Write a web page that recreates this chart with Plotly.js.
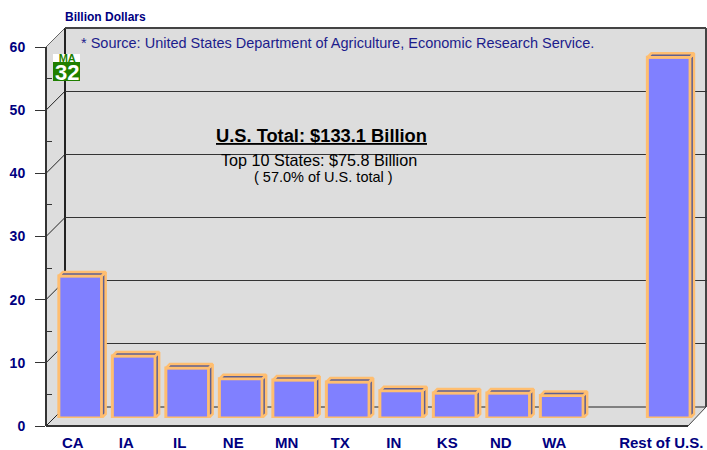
<!DOCTYPE html>
<html><head><meta charset="utf-8">
<script src="https://cdn.plot.ly/plotly-3.0.1.min.js"></script>
<style>html,body{margin:0;padding:0;background:#fff}#c{width:707px;height:450px}</style>
</head><body><div id="c"></div>
<script>
const categories = ['CA','IA','IL','NE','MN','TX','IN','KS','ND','WA','','Rest of U.S.'];
const values = [22.5,9.8,7.9,6.2,6.0,5.7,4.3,3.95,3.95,3.55,null,57.1];
const gridValues = [10,20,30,40,50,60];
const tickValues = [0,10,20,30,40,50,60];
const minorValues = [5,15,25,35,45,55];

const W=707,H=450,L=46,T=28,B=24;
const plotW=W-L, plotH=H-T-B;
const cellsW=642, axisH=379, depth=19, midX=7.5, midY=8, barW=0.8;
const pxX=12/cellsW, pxY=60/axisH;   // data units per pixel
const ex=4*pxX, ey=4*pxY;            // bar extrusion

const xs=categories.map((_,i)=>i);
const navy='#000080';
const edge='#FFBE70';

// bar extrusion polygons, derived from the values
let topX=[],topY=[],sideX=[],sideY=[];
values.forEach((v,i)=>{
  if(v===null) return;
  const a=i-barW/2,b=i+barW/2;
  topX.push(a,a+ex,b+ex,b,a,null); topY.push(v,v+ey,v+ey,v,v,null);
  sideX.push(b,b+ex,b+ex,b,b,null); sideY.push(0,ey,v+ey,v,0,null);
});

const data=[
 {type:'scatter',x:[0],y:[0],xaxis:'x',yaxis:'y',mode:'none',hoverinfo:'skip',showlegend:false},
 {type:'scatter',x:[0],y:[0],xaxis:'x2',yaxis:'y2',mode:'none',hoverinfo:'skip',showlegend:false},
 {type:'scatter',x:sideX,y:sideY,xaxis:'x3',yaxis:'y3',mode:'lines',fill:'toself',fillcolor:'#5F5F90',
  line:{color:edge,width:2.5},hoverinfo:'skip',showlegend:false},
 {type:'scatter',x:topX,y:topY,xaxis:'x3',yaxis:'y3',mode:'lines',fill:'toself',fillcolor:'#5F5F90',
  line:{color:edge,width:2.5},hoverinfo:'skip',showlegend:false},
 {type:'bar',x:xs,y:values,xaxis:'x3',yaxis:'y3',width:barW,marker:{color:'#8080FF',line:{color:edge,width:3}},
  hoverinfo:'skip',showlegend:false},
];

const px=(x)=>(x-L)/plotW, py=(y)=>(H-B-y)/plotH;
const seg=(x0,y0,x1,y1,color,width)=>({type:'line',xref:'paper',yref:'paper',layer:'below',
  x0:px(x0),y0:py(y0),x1:px(x1),y1:py(y1),line:{color,width}});

const y0px=H-B, yOf=v=>y0px-v/pxY;
const shapes=[
 {type:'path',xref:'paper',yref:'paper',layer:'below',fillcolor:'#DDDDDD',line:{width:0},
  path:'M'+[[46,47],[65,28],[706,28],[706,407],[688,426],[46,426]].map(p=>px(p[0])+','+py(p[1])).join('L')+'Z'}
];
gridValues.forEach(v=>{
  const y=yOf(v);
  shapes.push(seg(46,y,65,y-depth,v===60?'#666666':'#222222',1));
});
shapes.push(seg(46,426,65,407,'#222222',1));
shapes.push(seg(65,407,706,407,'#222222',1));
shapes.push(seg(65,28,65,407,'#222222',2));
shapes.push(seg(65,28,706,28,'#444444',2));
shapes.push(seg(706,28,706,407,'#444444',2));
shapes.push(seg(688,426,706,407,'#444444',1));
shapes.push(seg(46,426,688,426,'#333333',2));
shapes.push(seg(46,47,46,426,'#333333',2));
// highway badge
shapes.push({type:'rect',xref:'paper',yref:'paper',layer:'above',x0:px(53),x1:px(80),y0:py(81),y1:py(54),fillcolor:'#1F7F00',line:{width:0}});
shapes.push({type:'rect',xref:'paper',yref:'paper',layer:'above',x0:px(53),x1:px(80),y0:py(62),y1:py(54),fillcolor:'#FFFFFF',line:{width:0}});

const text=(t,x,y,size,color,anchor,extra)=>Object.assign({xref:'paper',yref:'paper',x:px(x),y:py(y),text:t,showarrow:false,
  xanchor:anchor,yanchor:'middle',font:{family:'Liberation Sans',size,color}},extra||{});

const layout={
 width:W,height:H,paper_bgcolor:'#fff',plot_bgcolor:'rgba(0,0,0,0)',showlegend:false,
 margin:{l:L,r:0,t:T,b:B,pad:0},barmode:'overlay',
 xaxis:{domain:[depth/plotW,1],range:[0,1],visible:false,anchor:'y'},
 yaxis:{domain:[depth/plotH,1],range:[0,60],anchor:'x',tickmode:'array',tickvals:gridValues,showgrid:true,gridcolor:'#333333',gridwidth:1,
   showticklabels:false,ticks:'',zeroline:false,showline:false},
 xaxis2:{domain:[0,cellsW/plotW],range:[-0.5,11.5],anchor:'y2',tickmode:'array',tickvals:xs,ticktext:categories,ticks:'',tickangle:0,
   showgrid:false,zeroline:false,showline:false,tickfont:{family:'Liberation Sans',size:15,color:navy,weight:'bold'},ticklabelstandoff:6},
 yaxis2:{domain:[0,axisH/plotH],range:[0,60],anchor:'x2',tickmode:'array',tickvals:tickValues,ticks:'outside',ticklen:10,tickcolor:'#333333',tickwidth:1,
   showgrid:false,zeroline:false,showline:false,tickfont:{family:'Liberation Sans',size:14,color:navy,weight:'bold'},ticklabelstandoff:7,
   minor:{tickmode:'array',tickvals:minorValues,ticks:'inside',ticklen:6,tickcolor:'#333333',tickwidth:1,showgrid:false}},
 xaxis3:{domain:[midX/plotW,(cellsW+midX)/plotW],range:[-0.5,11.5],visible:false,anchor:'y3'},
 yaxis3:{domain:[midY/plotH,(axisH+midY)/plotH],range:[0,60],visible:false,anchor:'x3'},
 shapes,
 annotations:[
  text('<b>Billion Dollars</b>',63,17,12,navy,'left'),
  text('* Source: United States Department of Agriculture, Economic Research Service.',79,43,14.5,'#1C1C8C','left'),
  text('<b><u>U.S. Total: $133.1 Billion</u></b>',321,135,18.3,'#000000','center'),
  text('Top 10 States: $75.8 Billion',319,160,16.2,'#000000','center'),
  text('( 57.0% of U.S. total )',323,177,14.5,'#000000','center'),
  text('<span style="font-size:11px;color:#1F7F00"><b>MA</b></span><br><span style="font-size:22px;color:#FFFFFF"><b>32</b></span>',66.5,68.5,14,'#FFFFFF','center'),
 ]
};
Plotly.newPlot('c',data,layout,{displayModeBar:false,staticPlot:true});
</script></body></html>
